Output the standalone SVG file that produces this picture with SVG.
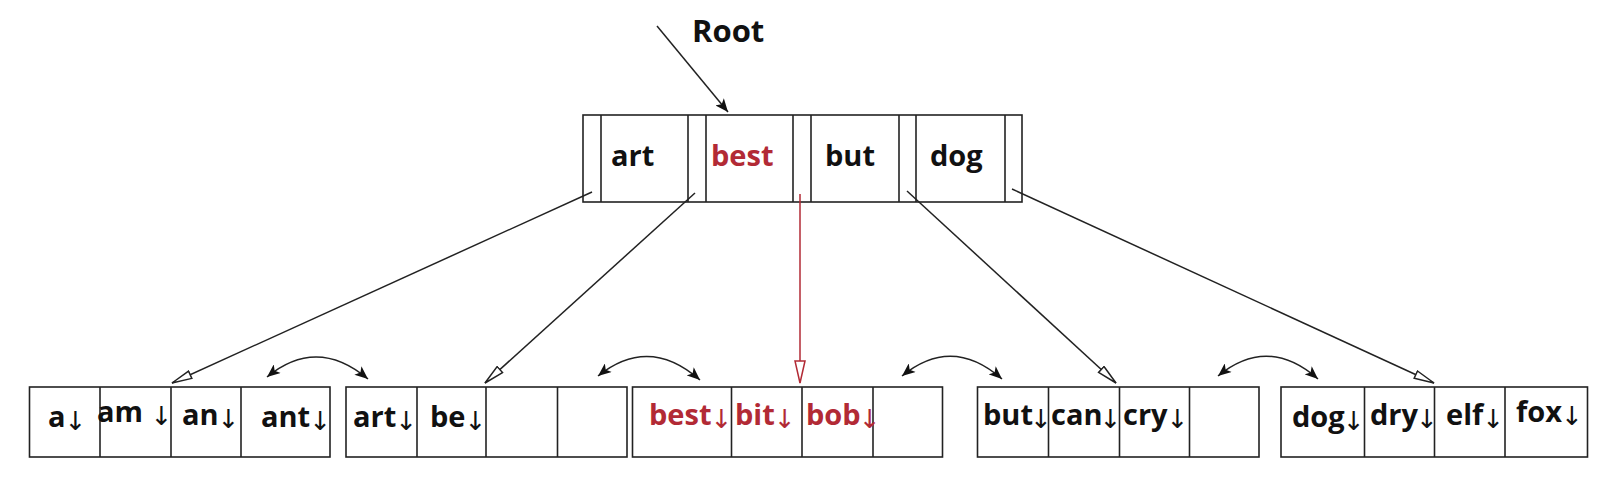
<svg xmlns="http://www.w3.org/2000/svg" width="1606" height="483" viewBox="0 0 1606 483">
<style>
.box{fill:#fff;stroke:#222;stroke-width:1.6}
.div{stroke:#222;stroke-width:1.6}
.t{font-family:"Open Sans","Liberation Sans",sans-serif;font-weight:bold;font-size:29px;fill:#111}
.r{fill:#b22a35}
.ar{font-family:"DejaVu Sans",sans-serif;font-weight:normal;font-size:26px}
.ln{stroke:#222;stroke-width:1.5;fill:none}
.red{stroke:#b22a35;stroke-width:1.5;fill:none}
</style>
<defs>
<marker id="fill" viewBox="0 0 12 10" refX="12" refY="5" markerWidth="14" markerHeight="11" markerUnits="userSpaceOnUse" orient="auto-start-reverse">
<path d="M0,0 L12,5 L0,10 L3,5 z" fill="#111"/>
</marker>
<marker id="hollow" viewBox="0 0 22 10" refX="21" refY="5" markerWidth="22" markerHeight="10" markerUnits="userSpaceOnUse" orient="auto">
<path d="M1,1 L21,5 L1,9 z" fill="#fff" stroke="#222" stroke-width="1.5"/>
</marker>
<marker id="hollowRed" viewBox="0 0 24 12" refX="23" refY="6" markerWidth="24" markerHeight="12" markerUnits="userSpaceOnUse" orient="auto">
<path d="M1,1 L23,6 L1,11 z" fill="#fff" stroke="#b22a35" stroke-width="1.5"/>
</marker>
</defs>

<g id="root-label">
<text class="t" x="692" y="42" style="font-size:31px">Root</text>
</g>

<g id="root">
<rect class="box" x="583" y="115" width="439" height="87"/>
<line class="div" x1="601" y1="115" x2="601" y2="202"/>
<line class="div" x1="688" y1="115" x2="688" y2="202"/>
<line class="div" x1="706" y1="115" x2="706" y2="202"/>
<line class="div" x1="793" y1="115" x2="793" y2="202"/>
<line class="div" x1="811" y1="115" x2="811" y2="202"/>
<line class="div" x1="899" y1="115" x2="899" y2="202"/>
<line class="div" x1="916" y1="115" x2="916" y2="202"/>
<line class="div" x1="1005" y1="115" x2="1005" y2="202"/>
<text class="t" x="611" y="166">art</text>
<text class="t r" x="711" y="166">best</text>
<text class="t" x="825" y="166">but</text>
<text class="t" x="930" y="166">dog</text>
</g>

<g id="leaf1">
<rect class="box" x="29.5" y="387" width="300.5" height="70"/>
<line class="div" x1="100" y1="387" x2="100" y2="457"/>
<line class="div" x1="171" y1="387" x2="171" y2="457"/>
<line class="div" x1="241" y1="387" x2="241" y2="457"/>
<text class="t" x="48" y="427">a<tspan class="ar" dx="-1" dy="3">↓</tspan></text>
<text class="t" x="97" y="422">am <tspan class="ar" dy="3">↓</tspan></text>
<text class="t" x="182" y="425">an<tspan class="ar" dx="-1" dy="3">↓</tspan></text>
<text class="t" x="261" y="427">ant<tspan class="ar" dx="-1" dy="3">↓</tspan></text>
</g>

<g id="leaf2">
<rect class="box" x="346" y="387" width="281" height="70"/>
<line class="div" x1="417" y1="387" x2="417" y2="457"/>
<line class="div" x1="486" y1="387" x2="486" y2="457"/>
<line class="div" x1="557.5" y1="387" x2="557.5" y2="457"/>
<text class="t" x="353" y="427">art<tspan class="ar" dx="-1" dy="3">↓</tspan></text>
<text class="t" x="430" y="427">be<tspan class="ar" dx="-1" dy="3">↓</tspan></text>
</g>

<g id="leaf3">
<rect class="box" x="632.5" y="387" width="310" height="70"/>
<line class="div" x1="731.5" y1="387" x2="731.5" y2="457"/>
<line class="div" x1="802" y1="387" x2="802" y2="457"/>
<line class="div" x1="873" y1="387" x2="873" y2="457"/>
<text class="t r" x="649" y="425">best<tspan class="ar" dx="-1" dy="3">↓</tspan></text>
<text class="t r" x="735" y="425">bit<tspan class="ar" dx="-1" dy="3">↓</tspan></text>
<text class="t r" x="806" y="425">bob<tspan class="ar" dx="-2" dy="3">↓</tspan></text>
</g>

<g id="leaf4">
<rect class="box" x="977.5" y="387" width="281.5" height="70"/>
<line class="div" x1="1048.5" y1="387" x2="1048.5" y2="457"/>
<line class="div" x1="1119.5" y1="387" x2="1119.5" y2="457"/>
<line class="div" x1="1189.5" y1="387" x2="1189.5" y2="457"/>
<text class="t" x="983" y="425">but<tspan class="ar" dx="-3" dy="3">↓</tspan></text>
<text class="t" x="1051" y="425">can<tspan class="ar" dx="-3" dy="3">↓</tspan></text>
<text class="t" x="1123" y="425">cry<tspan class="ar" dx="-1" dy="3">↓</tspan></text>
</g>

<g id="leaf5">
<rect class="box" x="1281" y="387" width="306.5" height="70"/>
<line class="div" x1="1364.5" y1="387" x2="1364.5" y2="457"/>
<line class="div" x1="1434.5" y1="387" x2="1434.5" y2="457"/>
<line class="div" x1="1505" y1="387" x2="1505" y2="457"/>
<text class="t" x="1292" y="427">dog<tspan class="ar" dx="-2" dy="3">↓</tspan></text>
<text class="t" x="1370" y="425">dry<tspan class="ar" dx="-2" dy="3">↓</tspan></text>
<text class="t" x="1446" y="425">elf<tspan class="ar" dx="-1" dy="3">↓</tspan></text>
<text class="t" x="1516" y="422">fox<tspan class="ar" dx="-1" dy="3">↓</tspan></text>
</g>

<g id="connectors">
<line class="ln" x1="657" y1="26" x2="728" y2="112" marker-end="url(#fill)"/>
<line class="ln" x1="592" y1="192" x2="172" y2="383" marker-end="url(#hollow)"/>
<line class="ln" x1="695" y1="193" x2="485" y2="383" marker-end="url(#hollow)"/>
<line class="red" x1="800" y1="194" x2="800" y2="383" marker-end="url(#hollowRed)"/>
<line class="ln" x1="907" y1="191" x2="1116" y2="383" marker-end="url(#hollow)"/>
<line class="ln" x1="1012" y1="189" x2="1434" y2="383" marker-end="url(#hollow)"/>
<path class="ln" d="M267,377 Q317,336 368,379" marker-start="url(#fill)" marker-end="url(#fill)"/>
<path class="ln" d="M598,376 Q649,335 700,380" marker-start="url(#fill)" marker-end="url(#fill)"/>
<path class="ln" d="M902,376 Q952,335 1002,379" marker-start="url(#fill)" marker-end="url(#fill)"/>
<path class="ln" d="M1218,376 Q1268,335 1318,379" marker-start="url(#fill)" marker-end="url(#fill)"/>
</g>
</svg>
